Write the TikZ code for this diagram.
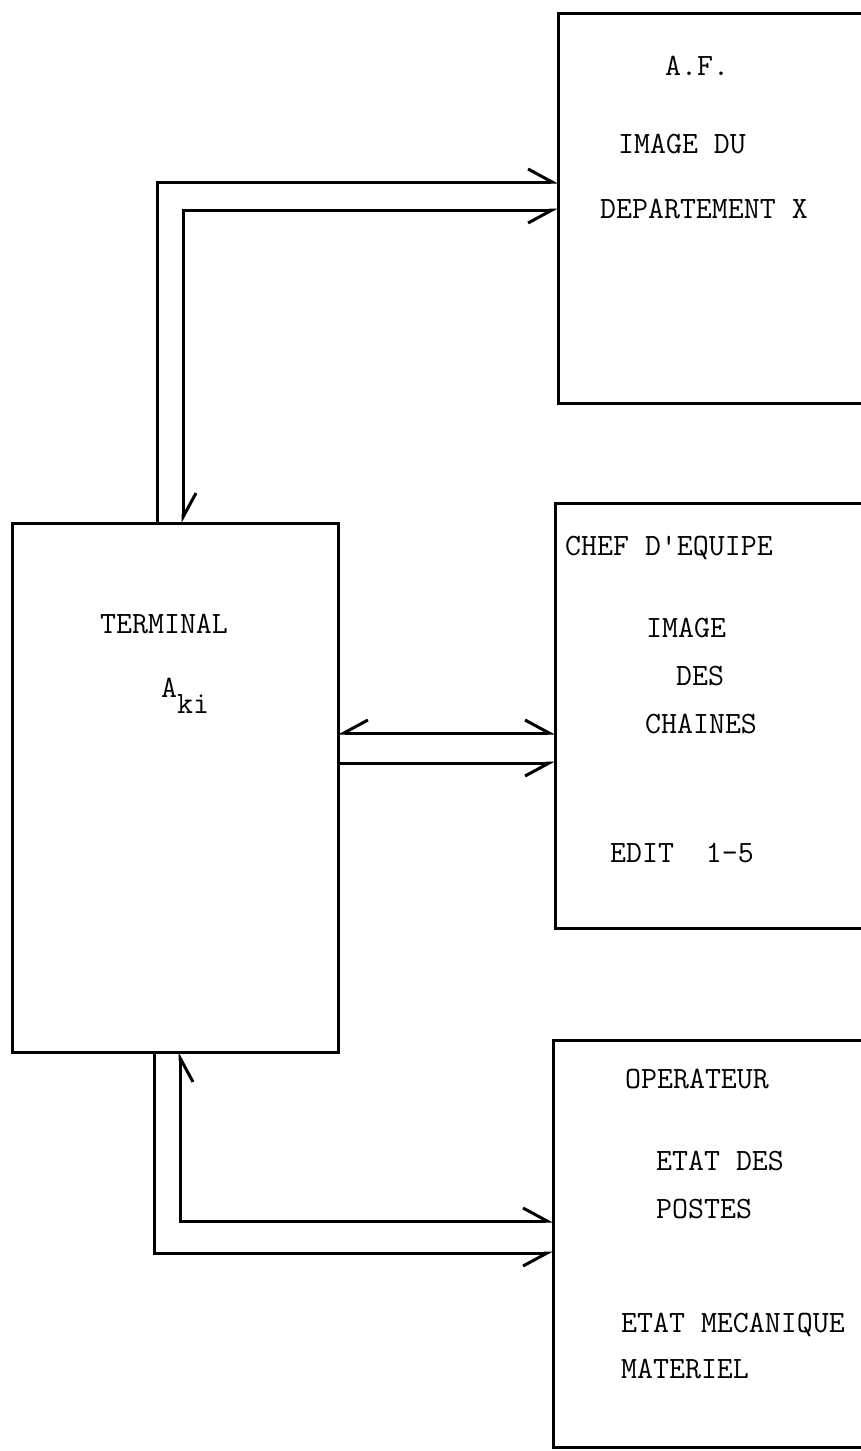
\documentclass[tikz,border=0pt]{standalone}
\usepackage{fontspec}
\usepackage{tikz}
\usetikzlibrary{arrows.meta,positioning}

\begin{document}
\begin{tikzpicture}[
    x=1pt, y=-1pt,
    box/.style={rectangle, draw=black, line width=3pt, inner sep=0pt, outer sep=0pt, anchor=north west},
    lbl/.style={anchor=base west, inner sep=0pt, font=\fontsize{31}{37}\selectfont\ttfamily},
    wire/.style={line width=3pt, draw=black},
    hl/.tip={Straight Barb[left, length=24pt, width=26pt]},
    hr/.tip={Straight Barb[right, length=24pt, width=26pt]}
]
    \useasboundingbox (0,0) rectangle (860,1451);

    \node [box, minimum width=312pt, minimum height=390pt] (af) at (558,13) {};
    \node [box, minimum width=320pt, minimum height=425pt] (chef) at (555,503) {};
    \node [box, minimum width=320pt, minimum height=407pt] (oper) at (553,1040) {};
    \node [box, minimum width=326pt, minimum height=529pt] (term) at (12,523) {};

    \node [lbl] (afa) at (665,75) {A.F.};
    \node [lbl] (afb) at (618,153) {IMAGE DU};
    \node [lbl] (afc) at (600,218) {DEPARTEMENT X};

    \node [lbl] (cha) at (565,555) {CHEF D'EQUIPE};
    \node [lbl] (chb) at (646,637) {IMAGE};
    \node [lbl] (chc) at (676,685) {DES};
    \node [lbl] (chd) at (645,733) {CHAINES};
    \node [lbl] (che) at (610,862) {EDIT\ \ 1-5};

    \node [lbl] (opa) at (625,1088) {OPERATEUR};
    \node [lbl] (opb) at (656,1170) {ETAT DES};
    \node [lbl] (opc) at (656,1218) {POSTES};
    \node [lbl] (opd) at (621,1332) {ETAT MECANIQUE};
    \node [lbl] (ope) at (621,1378) {MATERIEL};

    \node [lbl] (tea) at (100,633) {TERMINAL};
    \node [lbl] (teb) at (161,697) {A\raisebox{-16pt}{ki}};

    \coordinate (ua) at (157,182);
    \coordinate (ub) at (183,210);
    \coordinate (ma) at (0,733);
    \coordinate (mb) at (0,763);
    \coordinate (la) at (180,1221);
    \coordinate (lb) at (154,1253);

    \draw [wire, -hl] (term.north -| ua) -- (ua) -- (af.west |- ua);
    \draw [wire, hl-hr] (term.north -| ub) -- (ub) -- (af.west |- ub);
    \draw [wire, hr-hl] (term.east |- ma) -- (chef.west |- ma);
    \draw [wire, -hr] (term.east |- mb) -- (chef.west |- mb);
    \draw [wire, hr-hl] (term.south -| la) -- (la) -- (oper.west |- la);
    \draw [wire, -hr] (term.south -| lb) -- (lb) -- (oper.west |- lb);
\end{tikzpicture}
\end{document}
